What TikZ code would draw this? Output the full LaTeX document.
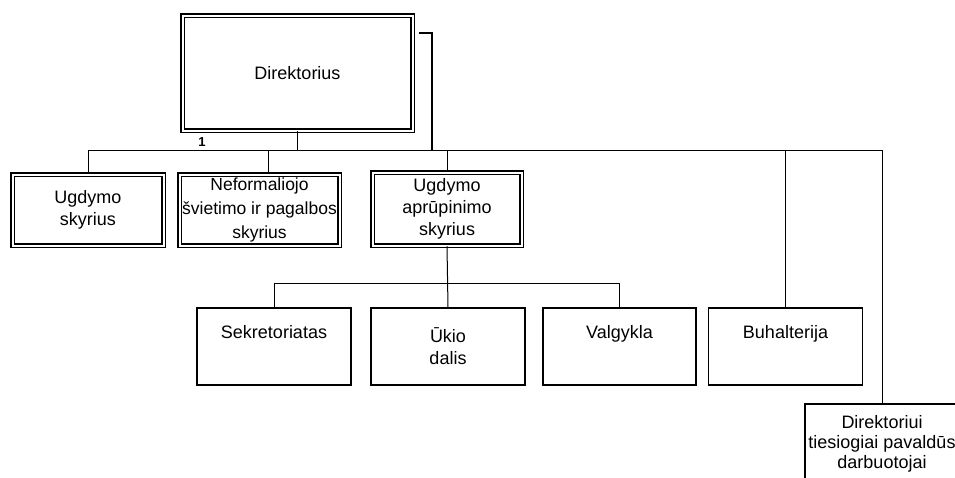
\documentclass[tikz,border=0pt]{standalone}
\usepackage{fontspec}
\setmainfont{Liberation Sans}
\tikzset{
  unit/.style={draw, line width=1.6pt, align=center, inner sep=0pt,
    font=\fontsize{18}{22}\selectfont},
  dunit/.style={unit, line width=1.5pt, double, double distance=2pt},
  link/.style={line width=1pt},
}
\begin{document}
\begin{tikzpicture}[x=1pt, y=-1pt]
      \useasboundingbox (0,0) rectangle (955,477);
      \clip (0,0) rectangle (955,477);
      % top
      \node[dunit, minimum width=230pt, minimum height=115pt] (dir) at (297.5,73) {Direktorius};
      \node[font=\bfseries\fontsize{13}{13}\selectfont, inner sep=0pt] (one) at (202,142) {1};
      % second row
      \node[dunit, minimum width=151pt, minimum height=71pt] (ugd) at (88,210) {Ugdymo\\skyrius};
      \node[dunit, minimum width=160pt, minimum height=71pt, font=\fontsize{17.5}{24}\selectfont] (nef) at (259.5,210) {Neformaliojo\\švietimo ir pagalbos\\skyrius};
      \node[dunit, minimum width=149pt, minimum height=73pt] (apr) at (447,209) {Ugdymo\\aprūpinimo\\skyrius};
      % third row
      \node[unit, minimum width=154pt, minimum height=77pt] (sek) at (274,346.5) {Sekretoriatas\\\strut};
      \node[unit, minimum width=154pt, minimum height=77pt] (uk) at (448,346.5) {Ūkio\\dalis};
      \node[unit, minimum width=153pt, minimum height=77pt] (val) at (619.5,346.5) {Valgykla\\\strut};
      \node[unit, minimum width=154pt, minimum height=77pt] (buh) at (785.5,346.5) {Buhalterija\\\strut};
      \node[unit, line width=1.2pt, minimum width=154pt, minimum height=80pt, font=\fontsize{18}{20}\selectfont] (pav) at (882,444) {Direktoriui\\tiesiogiai pavaldūs\\darbuotojai};
      % lines
      \coordinate (busL) at (88,150);
      \coordinate (busR) at (882,150);
      \coordinate (brk) at (419,33);
      \coordinate (brkend) at (432,150);
      \coordinate (subL) at (274,283);
      \coordinate (subR) at (619.5,283);
      \begin{scope}[link]
        \draw (busL) -- (busR);
        \draw (dir.south) -- (dir.south |- busL);
        \draw (ugd.north) -- (ugd.north |- busL);
        \draw ([xshift=8.5pt]nef.north) -- ([xshift=8.5pt]nef.north |- busL);
        \draw (apr.north) -- (apr.north |- busL);
        \draw[line width=1.6pt] (buh.north) -- (buh.north |- busL);
        \draw (busR) -- (pav.north);
        \draw (apr.south) -- (uk.north);
        \draw (subL) -- (subR);
        \draw (sek.north) -- (subL);
        \draw (val.north) -- (subR);
        \draw[line width=2.5pt] (brk) -| (brkend);
      \end{scope}
    \end{tikzpicture}
\end{document}
